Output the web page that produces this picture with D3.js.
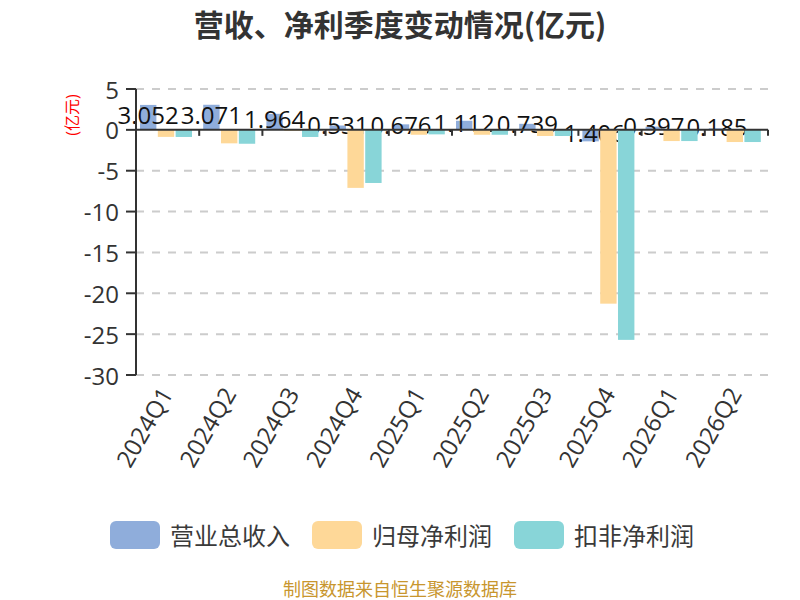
<!DOCTYPE html>
<html>
<head>
<meta charset="utf-8">
<script src="https://cdn.jsdelivr.net/npm/d3@7"></script>
<style>
  body { margin: 0; background: #fff; }
  svg { display: block; font-family: "Open Sans", "Noto Sans CJK SC", sans-serif; }
</style>
</head>
<body>
<svg id="chart" width="800" height="600"></svg>
<script>
// quarters on the x axis
var quarters = ["2024Q1", "2024Q2", "2024Q3", "2024Q4", "2025Q1", "2025Q2", "2025Q3", "2025Q4", "2026Q1", "2026Q2"];
var seriesNames = ["营业总收入", "归母净利润", "扣非净利润"];
var seriesColors = ["#8faddb", "#fed898", "#88d5d8"];
// values in 亿元
var revenue = [3.052, 3.071, 1.964, 0.531, 0.676, 1.112, 0.739, -1.406, 0.397, 0.185];
var netProfit = [-0.86, -1.65, -0.12, -7.1, -0.6, -0.6, -0.75, -21.27, -1.37, -1.49];
var netProfitDeducted = [-0.87, -1.7, -0.87, -6.5, -0.55, -0.6, -0.75, -25.7, -1.37, -1.49];
var yTicks = [5, 0, -5, -10, -15, -20, -25, -30];

var series = [revenue, netProfit, netProfitDeducted];

var svg = d3.select("#chart");
var plotLeft = 136, plotRight = 768, plotTop = 89, plotBottom = 375;

var x = d3.scaleBand().domain(quarters).range([plotLeft, plotRight]);
var xs = d3.scaleBand().domain(d3.range(3)).range([4, 56]).paddingInner(0.08);
var y = d3.scaleLinear().domain([-30, 5]).range([plotBottom, plotTop]);

/* title */
svg.append("text")
  .attr("x", 400).attr("y", 36)
  .attr("text-anchor", "middle")
  .attr("font-size", "30px")
  .attr("font-weight", "bold")
  .style("font-family", "'Noto Sans CJK SC', sans-serif")
  .attr("fill", "#333")
  .text("营收、净利季度变动情况(亿元)");

/* dashed grid */
svg.append("g").selectAll("line")
  .data(yTicks.filter(function(d){ return d !== 0; }))
  .enter().append("line")
  .attr("x1", plotLeft).attr("x2", plotRight)
  .attr("y1", function(d){ return y(d); })
  .attr("y2", function(d){ return y(d); })
  .attr("stroke", "#ccc")
  .attr("stroke-width", 2)
  .attr("stroke-dasharray", "8,8");

/* bars, each series followed by its labels */
series.forEach(function(vals, s){
  var g = svg.append("g");
  g.selectAll("rect")
    .data(vals)
    .enter().append("rect")
    .attr("x", function(d, i){ return x(quarters[i]) + xs(s); })
    .attr("width", xs.bandwidth())
    .attr("y", function(d){ return Math.min(y(d), y(0)); })
    .attr("height", function(d){ return Math.abs(y(d) - y(0)); })
    .attr("fill", seriesColors[s]);

  if (s === 0) {
    g.selectAll("text")
      .data(vals)
      .enter().append("text")
      .attr("x", function(d, i){ return x(quarters[i]) + xs(s) + xs.bandwidth() / 2; })
      .attr("y", function(d){ return (y(d) + y(0)) / 2 - 3; })
      .attr("text-anchor", "middle")
      .attr("dominant-baseline", "central")
      .attr("font-size", "24px")
      .attr("fill", "#111")
      .text(function(d){ return d3.format(".3f")(d).replace("−", "-"); });
  }
});

/* y axis */
var yAxis = svg.append("g");
yAxis.append("line")
  .attr("x1", plotLeft).attr("x2", plotLeft)
  .attr("y1", plotTop).attr("y2", plotBottom)
  .attr("stroke", "#333").attr("stroke-width", 2);
yAxis.selectAll(".tick")
  .data(yTicks)
  .enter().append("line")
  .attr("x1", plotLeft - 10).attr("x2", plotLeft)
  .attr("y1", function(d){ return y(d); })
  .attr("y2", function(d){ return y(d); })
  .attr("stroke", "#333").attr("stroke-width", 2);
yAxis.selectAll("text")
  .data(yTicks)
  .enter().append("text")
  .attr("x", plotLeft - 17)
  .attr("y", function(d){ return y(d); })
  .attr("text-anchor", "end")
  .attr("dominant-baseline", "central")
  .attr("font-size", "24px")
  .attr("fill", "#333")
  .text(function(d){ return d; });

svg.append("text")
  .attr("transform", "translate(72,115) rotate(-90)")
  .attr("text-anchor", "middle")
  .attr("dominant-baseline", "central")
  .attr("font-size", "16px")
  .attr("fill", "red")
  .text("(亿元)");

/* x axis on zero */
var xAxis = svg.append("g");
xAxis.append("line")
  .attr("x1", plotLeft).attr("x2", plotRight)
  .attr("y1", y(0)).attr("y2", y(0))
  .attr("stroke", "#333").attr("stroke-width", 2);
xAxis.selectAll(".tick")
  .data(quarters.map(function(q){ return x(q); }).concat([plotRight]))
  .enter().append("line")
  .attr("x1", function(d){ return d; }).attr("x2", function(d){ return d; })
  .attr("y1", y(0)).attr("y2", y(0) + 6)
  .attr("stroke", "#333").attr("stroke-width", 2);

/* category labels under the grid */
svg.append("g").selectAll("text")
  .data(quarters)
  .enter().append("text")
  .attr("transform", function(d){ return "translate(" + (x(d) + x.bandwidth() / 2 - 2) + "," + (plotBottom + 14) + ") rotate(-60)"; })
  .attr("text-anchor", "end")
  .attr("dominant-baseline", "central")
  .attr("font-size", "24px")
  .attr("fill", "#333")
  .text(function(d){ return d; });

/* legend */
var legendX = [110, 312, 514];
var legend = svg.append("g").selectAll("g")
  .data(seriesNames)
  .enter().append("g")
  .attr("transform", function(d, i){ return "translate(" + legendX[i] + ",521)"; });
legend.append("rect")
  .attr("width", 50).attr("height", 28).attr("rx", 6)
  .attr("fill", function(d, i){ return seriesColors[i]; });
legend.append("text")
  .attr("x", 60).attr("y", 14)
  .attr("dominant-baseline", "central")
  .attr("font-size", "24px")
  .attr("fill", "#3a3a3a")
  .text(function(d){ return d; });

/* source */
svg.append("text")
  .attr("x", 400).attr("y", 589)
  .attr("text-anchor", "middle")
  .attr("dominant-baseline", "central")
  .attr("font-size", "18px")
  .attr("fill", "#c8962e")
  .text("制图数据来自恒生聚源数据库");
</script>
</body>
</html>
